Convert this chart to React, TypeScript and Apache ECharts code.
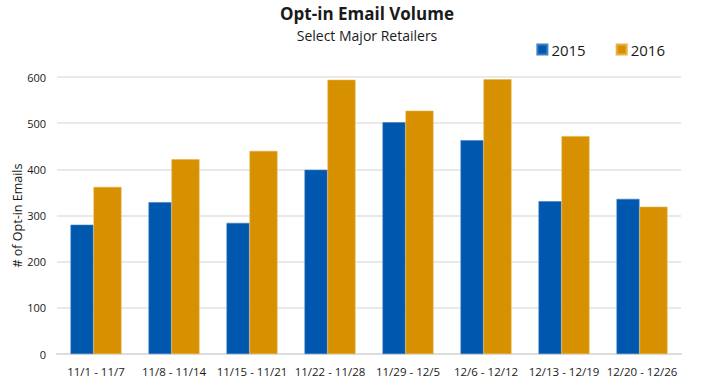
import React, { useEffect, useRef } from "react";
import * as echarts from "echarts";

const categories = ["11/1 - 11/7", "11/8 - 11/14", "11/15 - 11/21", "11/22 - 11/28", "11/29 - 12/5", "12/6 - 12/12", "12/13 - 12/19", "12/20 - 12/26"];
const values2015 = [280, 329, 284, 399, 502, 463, 331, 336];
const values2016 = [362, 422, 440, 594, 527, 595, 472, 319];
const yTicks = [0, 100, 200, 300, 400, 500, 600];

const FONT = "'Open Sans', 'Liberation Sans', sans-serif";

export default function App() {
  const ref = useRef<HTMLDivElement>(null);
  useEffect(() => {
    if (!ref.current) return;
    const chart = echarts.init(ref.current, null, { renderer: "svg" });
    chart.setOption({
      animation: false,
      backgroundColor: "#ffffff",
      graphic: [
        {
          type: "text",
          x: 367,
          y: 13,
          style: {
            text: "Opt-in Email Volume",
            textAlign: "center",
            textVerticalAlign: "middle",
            fontFamily: FONT,
            fontSize: 17,
            fontWeight: "bold",
            fill: "#1a1a1a",
          },
        },
        {
          type: "text",
          x: 367,
          y: 35,
          style: {
            text: "Select Major Retailers",
            textAlign: "center",
            textVerticalAlign: "middle",
            fontFamily: FONT,
            fontSize: 14,
            fill: "#1a1a1a",
          },
        },
      ],
      legend: {
        right: 40,
        top: 37,
        itemWidth: 10,
        itemHeight: 10,
        itemGap: 30,
        icon: "rect",
        textStyle: { fontFamily: FONT, fontSize: 15, color: "#1a1a1a", padding: [0, 0, 0, -1] },
        data: ["2015", "2016"],
      },
      grid: { left: 57, right: 29, top: 77, bottom: 32, containLabel: false },
      xAxis: {
        type: "category",
        data: categories,
        axisLine: { show: true, lineStyle: { color: "#dddddd", width: 2 } },
        axisTick: { show: false },
        axisLabel: { fontFamily: FONT, fontSize: 11.5, color: "#1a1a1a", margin: 11, interval: 0 },
      },
      yAxis: {
        type: "value",
        min: yTicks[0],
        max: yTicks[yTicks.length - 1],
        interval: 100,
        name: "# of Opt-in Emails",
        nameLocation: "middle",
        nameGap: 33,
        nameMoveOverlap: false,
        nameTextStyle: { fontFamily: FONT, fontSize: 12.5, color: "#1a1a1a" },
        axisLine: { show: false },
        axisTick: { show: false },
        axisLabel: { fontFamily: FONT, fontSize: 11, color: "#1a1a1a", margin: 11 },
        splitLine: { lineStyle: { color: "#e2e2e2", width: 1.5 } },
      },
      series: [
        {
          name: "2015",
          type: "bar",
          data: values2015,
          barWidth: 23,
          barGap: "0%",
          itemStyle: { color: "#0057ae", borderColor: "#3c7fc4", borderWidth: 0.6 },
        },
        {
          name: "2016",
          type: "bar",
          data: values2016,
          barWidth: 28,
          barGap: "0%",
          itemStyle: { color: "#d69000", borderColor: "#e8b04a", borderWidth: 0.6 },
        },
      ],
    });
    return () => chart.dispose();
  }, []);
  return (
    <div
      ref={ref}
      style={{ position: "absolute", left: 0, top: 0, width: 710, height: 386 }}
    />
  );
}
